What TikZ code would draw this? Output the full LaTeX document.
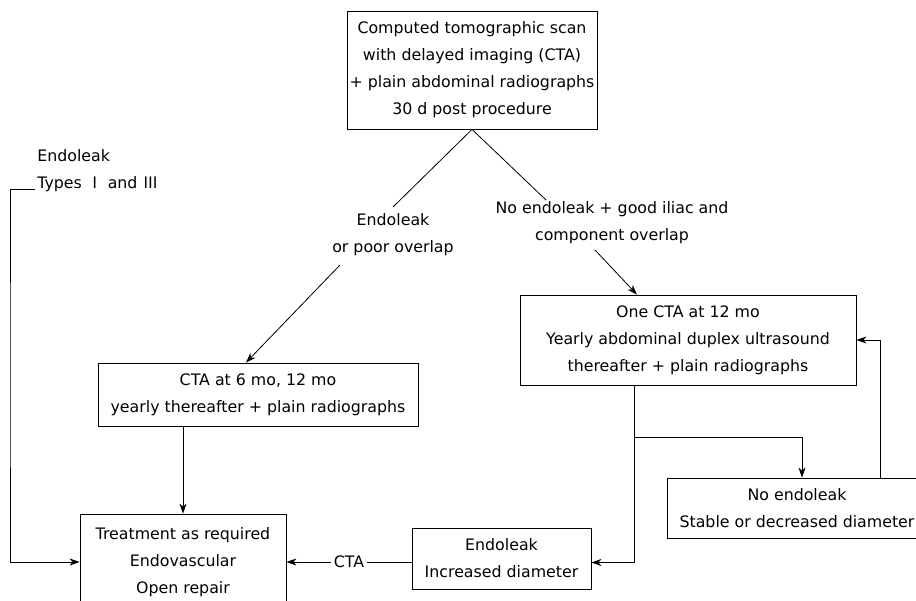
\documentclass[tikz,border=0pt]{standalone}
\usepackage{fontspec}
\setmainfont{DejaVu Sans}
\newfontfamily\cjk{Noto Sans CJK SC}
\usepackage{tikz}
\usetikzlibrary{arrows.meta,positioning}

\begin{document}
\begin{tikzpicture}[x=1pt, y=-1pt, ->, >={Stealth[length=10pt, width=7pt, inset=3pt]}, line width=0.8pt, font=\fontsize{15.8}{27}\selectfont]
\tikzstyle{box}=[draw, rectangle, align=center, inner sep=0pt]
\tikzstyle{lbl}=[align=center, inner sep=0pt]
\useasboundingbox (0,0) rectangle (916,601);

\node[box, minimum width=250, minimum height=118] (scan) at (472,70) {Computed tomographic scan\\with delayed imaging (CTA)\\+ plain abdominal radiographs\\30 d post procedure};
\node[lbl] (lblL) at (393,235) {Endoleak\\or poor overlap};
\node[lbl] (lblR) at (612,223) {No endoleak + good iliac and\\component overlap};
\node[lbl, align=left, anchor=west] (lblE) at (37,171) {Endoleak\\Types {\cjk Ⅰ} and {\cjk Ⅲ}};
\node[box, minimum width=320, minimum height=63] (cta6) at (258,394.5) {CTA at 6 mo, 12 mo\\yearly thereafter + plain radiographs};
\node[box, minimum width=336, minimum height=90] (one12) at (688,340) {One CTA at 12 mo\\Yearly abdominal duplex ultrasound\\thereafter + plain radiographs};
\node[box, minimum width=206, minimum height=96] (treat) at (183,562) {Treatment as required\\Endovascular\\Open repair};
\node[box, minimum width=179, minimum height=61] (incr) at (501.5,558.5) {Endoleak\\Increased diameter};
\node[box, minimum width=260, minimum height=60] (noend) at (797,508) {No endoleak\\Stable or decreased diameter};
\coordinate (eStart) at (35,189);
\coordinate (fork) at (634,437);

% branches from the scan
\draw[-] (scan.south) -- ([yshift=28pt]lblL.center);
\draw ([xshift=-53pt, yshift=-30pt]lblL.center) -- ([xshift=-12pt]cta6.north);
\draw[-] (scan.south) -- ([xshift=-66pt, yshift=23pt]lblR.center);
\draw ([xshift=-17pt, yshift=-27pt]lblR.center) -- ([xshift=-51pt]one12.north);

% follow-up
\draw (treat.north |- cta6.south) -- (treat.north);
\draw ([xshift=-54pt]one12.south) -- (fork) -| ([xshift=5pt]noend.north);
\draw (fork) |- ([yshift=-4pt]incr.east);
\draw ([xshift=83pt]noend.north) |- (one12.east);
\draw (incr.west |- treat.east) -- node[fill=white, inner sep=3pt] {CTA} (treat.east);
\draw (eStart) -| (10,375) |- (treat.west);
\end{tikzpicture}
\end{document}
